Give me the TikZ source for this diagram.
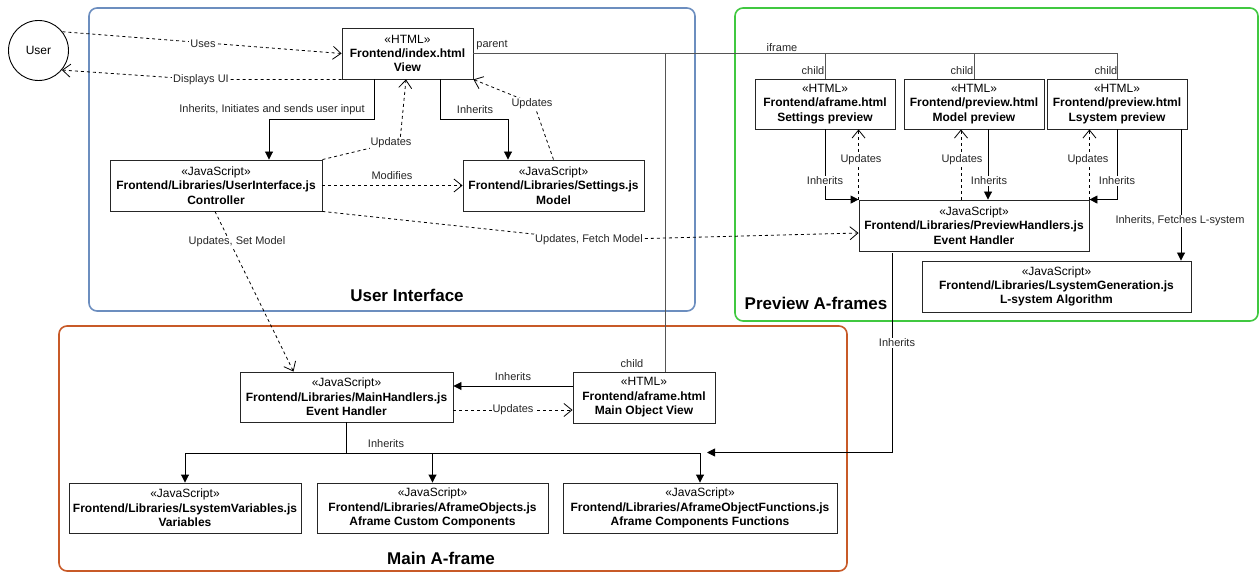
\documentclass[tikz,border=0pt]{standalone}
\usepackage{fontspec}
\setmainfont{Liberation Sans}
\usetikzlibrary{arrows.meta,calc}
\definecolor{uiblue}{RGB}{108,142,191}
\definecolor{pvgreen}{RGB}{64,200,64}
\definecolor{mforange}{RGB}{200,90,40}
\definecolor{linegray}{RGB}{85,85,85}
\begin{document}
\begin{tikzpicture}[x=1pt,y=-1pt,
  box/.style={draw=black!85, line width=0.9pt, fill=white, align=center, inner sep=0pt, font=\fontsize{12}{14.4}\selectfont},
  cont/.style={line width=1.6pt, rounded corners=8pt},
  dep/.style={draw, line width=0.8pt, dash pattern=on 3pt off 3pt, -{Straight Barb[length=8pt,width=13pt,line width=0.8pt]}},
  inh/.style={draw, line width=0.9pt, -{Triangle[length=8pt,width=8pt]}},
  tree/.style={draw=linegray, line width=1pt},
  lbl/.style={font=\fontsize{11}{13}\selectfont, fill=white, inner sep=1pt, text=black!85},
  lblnf/.style={font=\fontsize{11}{13}\selectfont, inner sep=1pt, text=black!85},
  ttl/.style={font=\fontsize{17}{20}\selectfont\bfseries, inner sep=0pt}
]
\useasboundingbox (0,0) rectangle (1259,572);

% containers
\draw[cont, uiblue] (89,8) rectangle (695,311);
\draw[cont, pvgreen] (735,8) rectangle (1258,321);
\draw[cont, mforange] (59,326) rectangle (847,571);
\node[ttl] (tui) at (407,295) {User Interface};
\node[ttl] (tpv) at (816,303) {Preview A-frames};
\node[ttl] (tmf) at (441,558) {Main A-frame};

% user
\node[draw, circle, line width=0.9pt, minimum size=60pt, inner sep=0pt, font=\fontsize{12}{14.4}\selectfont] (user) at (38.5,50.5) {User};

% boxes
\node[box, minimum width=131pt, minimum height=51pt] (index) at (407.5,53.5) {«HTML»\\\textbf{Frontend/index.html}\\\textbf{View}};
\node[box, minimum width=212pt, minimum height=51pt] (ui) at (216,185.5) {«JavaScript»\\\textbf{Frontend/Libraries/UserInterface.js}\\\textbf{Controller}};
\node[box, minimum width=181pt, minimum height=51pt] (settings) at (553.5,185.5) {«JavaScript»\\\textbf{Frontend/Libraries/Settings.js}\\\textbf{Model}};
\node[box, minimum width=140pt, minimum height=50pt] (setprev) at (825,104) {«HTML»\\\textbf{Frontend/aframe.html}\\\textbf{Settings preview}};
\node[box, minimum width=140pt, minimum height=50pt] (modprev) at (974,104) {«HTML»\\\textbf{Frontend/preview.html}\\\textbf{Model preview}};
\node[box, minimum width=140pt, minimum height=50pt] (lsysprev) at (1117,104) {«HTML»\\\textbf{Frontend/preview.html}\\\textbf{Lsystem preview}};
\node[box, minimum width=230pt, minimum height=51pt] (prevh) at (974,225.5) {«JavaScript»\\\textbf{Frontend/Libraries/PreviewHandlers.js}\\\textbf{Event Handler}};
\node[box, minimum width=269pt, minimum height=51pt] (lsysgen) at (1056.5,286.5) {«JavaScript»\\\textbf{Frontend/Libraries/LsystemGeneration.js}\\\textbf{L-system Algorithm}};
\node[box, minimum width=213pt, minimum height=50pt] (mainh) at (346.5,397) {«JavaScript»\\\textbf{Frontend/Libraries/MainHandlers.js}\\\textbf{Event Handler}};
\node[box, minimum width=142pt, minimum height=51pt] (mainview) at (644,397.5) {«HTML»\\\textbf{Frontend/aframe.html}\\\textbf{Main Object View}};
\node[box, minimum width=232pt, minimum height=50pt] (vars) at (185,508) {«JavaScript»\\\textbf{Frontend/Libraries/LsystemVariables.js}\\\textbf{Variables}};
\node[box, minimum width=231pt, minimum height=50pt] (objs) at (432.5,508) {«JavaScript»\\\textbf{Frontend/Libraries/AframeObjects.js}\\\textbf{Aframe Custom Components}};
\node[box, minimum width=274pt, minimum height=50pt] (funcs) at (700,508) {«JavaScript»\\\textbf{Frontend/Libraries/AframeObjectFunctions.js}\\\textbf{Aframe Components Functions}};

% iframe tree
\draw[tree] (index.east) -- (lsysprev.north |- index.east) -- (lsysprev.north);
\draw[tree] (setprev.north) -- (setprev.north |- index.east);
\draw[tree] (modprev.north) -- (modprev.north |- index.east);
\draw[tree] ([xshift=21pt]mainview.north) -- ([xshift=21pt]mainview.north |- index.east);

% user interface connectors
\draw[dep] (user.38) -- (index.west);
\draw[dep] (index.south west) -- (200,79.5) -- (user.-40);
\draw[inh] ([xshift=-33pt]index.south) -- ++(0,40.5) -| ([xshift=53pt]ui.north);
\draw[dep] (ui.north east) -- (400,141) -- ([xshift=-1.5pt]index.south);
\draw[inh] ([xshift=32.5pt]index.south) -- ++(0,40.5) -| ([xshift=-45.5pt]settings.north);
\draw[dep] (settings.north) -- (534,104) -- (index.south east);
\draw[dep] (ui.east) -- (settings.west);
\draw[dep] (ui.south east) -- (589,240) -- ([yshift=-7.5pt]prevh.west);
\draw[dep] ([xshift=-1pt]ui.south) -- ([xshift=-53pt]mainh.north);

% main a-frame connectors
\draw[inh] ([yshift=11.5pt]mainview.west) -- ([yshift=11.5pt]mainview.west -| mainh.east);
\draw[dep] ([yshift=-13pt]mainh.east) -- ([yshift=-13pt]mainh.east -| mainview.west);
\draw[inh] (mainh.south) -- ++(0,30.5) -| (vars.north);
\draw[inh] (mainh.south) -- ++(0,30.5) -| (objs.north);
\draw[inh] (mainh.south) -- ++(0,30.5) -| (funcs.north);
\coordinate (fj) at (707,452.5);
\draw[inh] ([xshift=-82pt,yshift=-2pt]prevh.south) |- (fj);

% preview connectors
\draw[inh] ([xshift=64pt]lsysprev.south) -- ([xshift=64pt]lsysprev.south |- lsysgen.north);
\draw[inh] (setprev.south) |- (prevh.north west);
\draw[dep] (prevh.north west) -- (prevh.north west |- setprev.south);
\draw[inh] ([xshift=14pt]modprev.south) -- ([xshift=14pt]modprev.south |- prevh.north);
\draw[dep] ([xshift=-13pt]prevh.north) -- ([xshift=-13pt]prevh.north |- modprev.south);
\draw[inh] (lsysprev.south) |- (prevh.north east);
\draw[dep] (prevh.north east) -- (prevh.north east |- lsysprev.south);

% labels
\node[lbl] (l1) at (203,43.5) {Uses};
\node[lbl] (l2) at (201,79.5) {Displays UI};
\node[lblnf] (l3) at (272,110) {Inherits, Initiates and sends user input};
\node[lbl] (l4) at (391,143) {Updates};
\node[lblnf] (l5) at (475,110) {Inherits};
\node[lbl] (l6) at (532,104) {Updates};
\node[lblnf] (l7) at (392,176) {Modifies};
\node[lbl] (l8) at (589,240) {Updates, Fetch Model};
\node[lbl] (l9) at (237,242) {Updates, Set Model};
\node[lblnf] (l10) at (513,377) {Inherits};
\node[lbl] (l11) at (513,410) {Updates};
\node[lblnf] (l12) at (386,444) {Inherits};
\node[lbl] (l13) at (897,343) {Inherits};
\node[lbl] (l14) at (1180,221) {Inherits, Fetches L-system};
\node[lbl] (l15) at (825,181) {Inherits};
\node[lbl] (l16) at (861,160) {Updates};
\node[lbl] (l17) at (989,181) {Inherits};
\node[lbl] (l18) at (962,160) {Updates};
\node[lbl] (l19) at (1117,181) {Inherits};
\node[lbl] (l20) at (1088,160) {Updates};
\node[lblnf] (l21) at (492,45) {parent};
\node[lblnf] (l22) at (782,48) {iframe};
\node[lblnf] (l23) at (813,71) {child};
\node[lblnf] (l24) at (962,71) {child};
\node[lblnf] (l25) at (1106,71) {child};
\node[lblnf] (l26) at (632,364) {child};
\end{tikzpicture}
\end{document}
